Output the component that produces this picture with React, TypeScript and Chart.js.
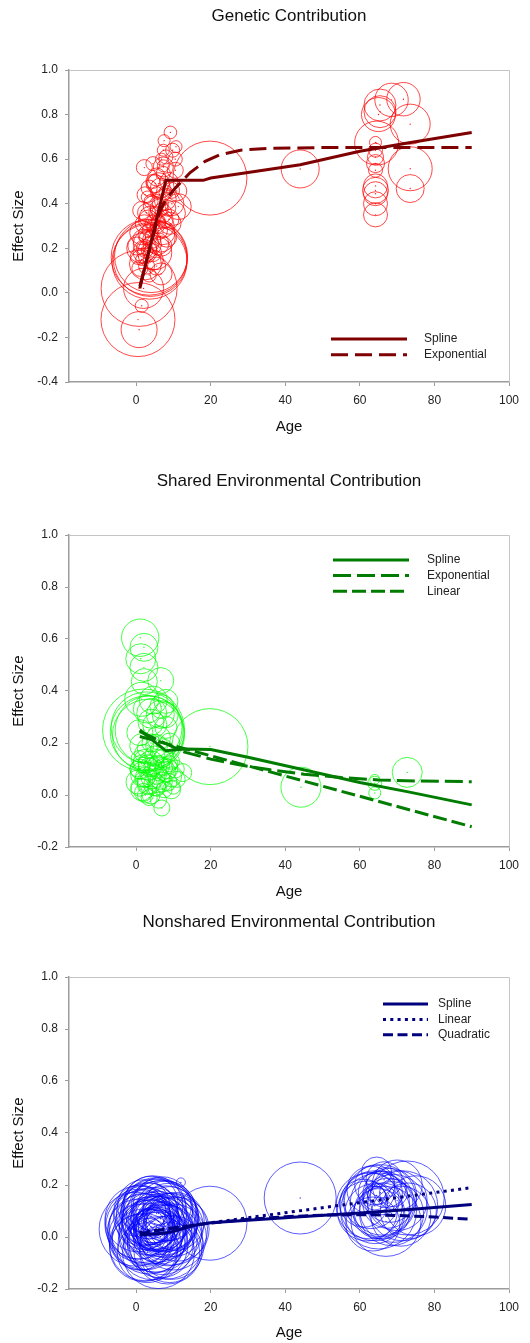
import React, { useEffect, useRef } from "react";
import { Chart, registerables } from "chart.js";

Chart.register(...registerables);

// ---------- axis ticks ----------
const ageTicks = [0, 20, 40, 60, 80, 100];
const geneticEffectTicks = [-0.4, -0.2, 0.0, 0.2, 0.4, 0.6, 0.8, 1.0];
const envEffectTicks = [-0.2, 0.0, 0.2, 0.4, 0.6, 0.8, 1.0];

// ---------- Genetic contribution: studies (age, effect, weight) ----------
const geneticAge = [
  0.5, 0.8, 0.8, 1.5, 2, 3.5, 3.8, 4.0, 3.6, 19.8, 44, 6.7,
  9.2, 7.5, 10.7, 7.3, 2.2, 10.5, 7.3, 7.3, 10.5, 5.1, 2.4, 10.9, 11.3, 9.6, 4.6, 1.5, 6.9, 3.3,
  9.1, 6.0, 1.5, 8.2, 4.2, 0.2, 2.4, 6.9, 0.6, 4.6, 1.5, 3, 2.5, 5, 6.5, 7, 10, 7.3, 6,
  3, 4, 5, 6, 4.5, 3.5, 2.5, 5.5, 6.5, 8, 8.5, 7.5, 2, 3, 1.5, 4,
  3.5, 4.5, 5.5, 6.5, 8.8, 9.5, 2.8, 3.8, 5.2, 6.2, 7.8, 8.8, 2.2, 3.2, 5.8, 7.2, 4.4, 1.8, 2.8, 5.5, 3.5, 1, 8, 9.8, 6.8, 4.5,
  71.7, 68.5, 65.4, 65.4, 65.0, 73.5, 64.5, 64.2, 64.2, 64.2, 64.2, 64.2, 73.5, 73.5, 64.2, 64.2, 64.2, 64.2, 64.2,
];
const geneticEffect = [
  -0.12, 0.02, -0.165, -0.058, 0.02, 0.16, 0.15, 0.165, 0.14, 0.515, 0.556, 0.085,
  0.72, 0.683, 0.656, 0.64, 0.562, 0.6, 0.57, 0.536, 0.55, 0.49, 0.44, 0.457, 0.387, 0.4, 0.39, 0.37, 0.357, 0.327,
  0.312, 0.28, 0.27, 0.25, 0.24, 0.21, 0.185, 0.21, 0.163, 0.148, 0.2, 0.22, 0.13, 0.18, 0.25, 0.3, 0.357, 0.565, 0.49,
  0.43, 0.41, 0.36, 0.32, 0.3, 0.28, 0.25, 0.45, 0.4, 0.45, 0.38, 0.33, 0.2, 0.19, 0.15, 0.22,
  0.47, 0.5, 0.52, 0.47, 0.5, 0.46, 0.36, 0.34, 0.31, 0.38, 0.42, 0.33, 0.31, 0.26, 0.22, 0.27, 0.18, 0.24, 0.12, 0.12, 0.08, 0.11, 0.61, 0.64, 0.6, 0.58,
  0.869, 0.866, 0.843, 0.813, 0.8, 0.757, 0.672, 0.675, 0.64, 0.61, 0.58, 0.55, 0.557, 0.468, 0.48, 0.46, 0.445, 0.4, 0.35,
];
const geneticWeight = [
  37, 38, 18, 6.5, 20, 38, 37, 36.5, 37.5, 37, 19, 11,
  6.3, 6, 6, 6, 8, 7, 6, 7, 8, 9, 8, 10, 13, 12, 10, 9, 10, 10,
  11, 9, 12, 10, 9, 9, 12, 10, 8, 10, 15, 14, 16, 17, 15, 12, 12, 10, 11,
  6, 7, 6, 7, 6, 7, 6, 6, 8, 7, 8, 9, 7, 6, 6, 8,
  8, 7, 9, 10, 9, 8, 9, 11, 10, 9, 11, 10, 9, 10, 11, 12, 9, 10, 8, 9, 7, 8, 7, 7, 6, 7,
  16.7, 16.7, 16, 16, 17, 20, 22, 6, 7, 8, 9, 7, 22, 14, 12, 13, 12, 12, 12,
];
const geneticSplineAge = [1, 8, 18, 20, 30, 44, 60, 72, 90];
const geneticSplineEffect = [0.02, 0.505, 0.505, 0.515, 0.54, 0.575, 0.635, 0.67, 0.72];
const geneticExpAge = [1, 4, 6.2, 8, 10.5, 14.5, 18.5, 22.5, 28, 35, 50, 90];
const geneticExpEffect = [0.03, 0.22, 0.36, 0.42, 0.47, 0.54, 0.59, 0.62, 0.64, 0.648, 0.652, 0.652];

// ---------- Shared environmental contribution ----------
const sharedAge = [
  1.1, 2.1, 1.25, 2.1, 2.2, 6.6, 1.5, 4.6, 6.9, 7.8, 4.2, 2, 3, 3.3, 2.8, 3.5, 1, 19.8, 44.2, 72.7, 64, 64, 64,
  0.5, 1, 1.5, 2, 2.5, 3, 3.5, 4, 4.5, 5, 5.5, 6, 6.5, 7, 7.5, 8, 8.5, 9, 9.5, 10, 11, 12.5, 2, 0.8,
  3, 4, 5.5, 6, 1.5, 3.5, 6.9, 6, 9.5, 1, 2.5, 4, 7, 8, 5, 9,
  0.5, 1.5, 2.5, 3.5, 4.5, 5.5, 6.5, 7.5, 8.5, 5, 7, 3, 2, 9.5, 10.5, 1.5, 6.5, 8, 3, 4,
];
const sharedEffect = [
  0.605, 0.568, 0.524, 0.491, 0.436, 0.44, 0.368, 0.365, 0.34, 0.308, 0.314, 0.25, 0.24, 0.23, 0.26, 0.25, 0.24, 0.186, 0.03, 0.087, 0.045, 0.008, 0.06,
  0.05, 0.1, 0.02, 0.08, 0.13, 0.04, 0.1, 0.0, 0.07, 0.15, 0.03, 0.11, 0.06, 0.14, 0.02, 0.09, 0.05, 0.12, 0.07, 0.03, 0.06, 0.086, 0.16, 0.14,
  0.18, 0.2, 0.19, 0.22, 0.06, -0.01, -0.05, -0.02, 0.02, 0.03, 0.0, 0.12, 0.17, 0.26, 0.27, 0.2,
  0.1, 0.12, 0.07, 0.05, 0.11, 0.08, 0.1, 0.11, 0.1, 0.04, 0.05, 0.12, 0.01, 0.13, 0.1, 0.19, 0.31, 0.36, 0.33, 0.28,
];
const sharedWeight = [
  18.7, 14, 15, 14, 13, 13, 17, 14, 12, 13, 15, 41, 37, 36, 35.5, 34, 13, 38, 20, 15, 7, 6, 5,
  12, 10, 11, 13, 12, 10, 11, 9, 12, 10, 9, 11, 10, 9, 8, 10, 9, 8, 10, 7, 8, 9, 9, 8,
  10, 9, 11, 12, 7, 8, 8, 8, 9, 9, 8, 13, 12, 11, 12, 10,
  8, 9, 10, 12, 9, 10, 12, 9, 10, 11, 10, 9, 9, 8, 9, 12, 14, 12, 14, 13,
];
const sharedSplineAge = [1, 8, 13, 20, 30, 44, 60, 73, 90];
const sharedSplineEffect = [0.25, 0.17, 0.177, 0.175, 0.145, 0.1, 0.048, 0.012, -0.038];
const sharedExpAge = [1, 6, 13, 20, 28, 36, 45, 55, 65, 75, 90];
const sharedExpEffect = [0.245, 0.21, 0.165, 0.138, 0.115, 0.097, 0.08, 0.067, 0.058, 0.054, 0.051];
const sharedLinearAge = [1, 90];
const sharedLinearEffect = [0.225, -0.122];

// ---------- Nonshared environmental contribution ----------
const nonsharedAge = [
  0, 1, 1.5, 2, 2.5, 3, 3.5, 4, 4.5, 5, 5.5, 6, 6.5, 7, 7.5, 8, 8.5, 9, 9.5, 10, 0.5, 2, 3, 4, 5, 6, 7, 8, 1, 2.5, 6.5,
  11, 12, 4, 5.5, 3.5, 6, 5, 4.5, 7, 9, 2.5, 8,
  0.5, 1.5, 2, 3, 3.5, 4, 4.5, 5, 5.5, 6, 6.5, 7, 7.5, 8, 8.5, 9, 9.5, 10, 10.5, 3, 5, 6, 4, 7.5, 2, 1, 6, 8.5, 4.5, 3,
  19.8, 44,
  62, 63, 64, 64, 64.5, 65, 65.5, 66, 67, 68, 69, 70, 71, 72.7, 73, 63.5, 66.5, 64, 61, 75, 65,
  62.5, 64, 65.5, 66, 67.5, 68.5, 70, 71.5, 63, 67, 69, 64.5,
];
const nonsharedEffect = [
  0.03, 0.05, 0.0, 0.08, -0.03, 0.04, 0.1, 0.02, 0.06, -0.02, 0.09, 0.03, 0.07, -0.01, 0.05, 0.1, 0.02, 0.06, -0.04, 0.04, 0.03, 0.12, -0.06, 0.13, 0.05, -0.06, 0.12, -0.02, -0.02, 0.06, 0.0,
  0.03, 0.21, 0.08, 0.04, 0.05, 0.09, 0.0, 0.03, 0.04, -0.06, 0.02, 0.07,
  0.07, 0.04, -0.04, 0.09, 0.0, 0.06, -0.03, 0.1, 0.01, 0.06, -0.03, 0.08, 0.02, 0.04, -0.05, 0.09, 0.03, 0.0, 0.06, 0.03, 0.07, 0.03, 0.04, 0.06, 0.06, 0.1, 0.12, 0.11, 0.12, -0.02,
  0.053, 0.15,
  0.1, 0.14, 0.12, 0.2, 0.25, 0.09, 0.17, 0.13, 0.06, 0.16, 0.11, 0.2, 0.08, 0.15, 0.1, 0.05, 0.22, 0.15, 0.13, 0.12, 0.1,
  0.12, 0.09, 0.14, 0.1, 0.13, 0.09, 0.14, 0.12, 0.18, 0.19, 0.17, 0.16,
];
const nonsharedWeight = [
  37, 35, 33, 30, 36, 38, 28, 32, 34, 30, 36, 33, 38, 35, 31, 30, 34, 28, 32, 30, 30, 26, 30, 27, 25, 36, 29, 37, 28, 24, 27,
  32, 4.5, 20, 18, 15, 12, 10, 22, 24, 30, 38, 33,
  33, 36, 34, 31, 37, 29, 35, 32, 38, 30, 33, 36, 28, 31, 34, 27, 36, 33, 29, 26, 24, 22, 18, 20, 28, 26, 27, 25, 30, 24,
  37, 36,
  30, 28, 35, 20, 15, 25, 22, 32, 35, 27, 34, 25, 30, 37, 28, 27, 18, 12, 24, 30, 38,
  33, 30, 36, 28, 25, 32, 30, 35, 24, 20, 14, 9,
];
const nonsharedSplineAge = [1, 8, 12, 16, 20, 30, 44, 60, 75, 90];
const nonsharedSplineEffect = [0.008, 0.015, 0.03, 0.046, 0.055, 0.064, 0.078, 0.092, 0.108, 0.125];
const nonsharedLinearAge = [1, 90];
const nonsharedLinearEffect = [0.018, 0.19];
const nonsharedQuadAge = [1, 10, 20, 30, 40, 50, 60, 70, 80, 90];
const nonsharedQuadEffect = [0.012, 0.035, 0.054, 0.068, 0.078, 0.084, 0.086, 0.083, 0.077, 0.068];

// ---------- helpers ----------
const BUBBLE_PX = 1; // weight -> bubble radius in px
const FONT = "'Liberation Sans', Arial, Helvetica, sans-serif";
const AXIS_GRAY = "#9c9c9c";
const FRAME_GRAY = "#c4c4c4";
const TEXT = "#222222";

const pts = (xs: number[], ys: number[]) => xs.map((x, i) => ({ x, y: ys[i] }));
const bubbles = (xs: number[], ys: number[], ws: number[]) =>
  xs.map((x, i) => ({ x, y: ys[i], r: ws[i] * BUBBLE_PX }));

const framePlugin = {
  id: "frame",
  afterDraw(chart: any) {
    const { ctx, chartArea: a } = chart;
    ctx.save();
    ctx.strokeStyle = FRAME_GRAY;
    ctx.lineWidth = 1;
    ctx.beginPath();
    ctx.moveTo(a.left, a.top + 0.5);
    ctx.lineTo(a.right + 0.5, a.top + 0.5);
    ctx.lineTo(a.right + 0.5, a.bottom);
    ctx.stroke();
    ctx.restore();
  },
};

const lineLegendPlugin = {
  id: "lineLegend",
  afterDraw(chart: any, _args: any, opts: any) {
    if (!opts || opts.x0 == null) return;
    const { ctx } = chart;
    const items = chart.data.datasets.filter((d: any) => d.type === "line");
    ctx.save();
    items.forEach((d: any, i: number) => {
      const y = opts.y0 + i * opts.row;
      ctx.strokeStyle = d.borderColor;
      ctx.lineWidth = d.borderWidth;
      ctx.setLineDash(d.borderDash || []);
      ctx.beginPath();
      ctx.moveTo(opts.x0, y);
      ctx.lineTo(opts.x1, y);
      ctx.stroke();
      ctx.setLineDash([]);
      ctx.fillStyle = TEXT;
      ctx.font = `12px ${FONT}`;
      ctx.textAlign = "left";
      ctx.textBaseline = "middle";
      ctx.fillText(d.label, opts.textX, y);
    });
    ctx.restore();
  },
};

type LineSpec = { label: string; xs: number[]; ys: number[]; dash: number[]; width: number };
type PanelSpec = {
  top: number;
  height: number;
  title: string;
  titlePad: { top: number; bottom: number };
  yMin: number;
  yMax: number;
  yTicks: number[];
  xAxisH: number;
  agePadBottom: number;
  bubbleColor: string;
  lineColor: string;
  ages: number[];
  effects: number[];
  weights: number[];
  lines: LineSpec[];
  legend: { x0: number; x1: number; textX: number; y0: number; row: number };
};

const panels: PanelSpec[] = [
  {
    top: 0,
    height: 450,
    title: "Genetic Contribution",
    titlePad: { top: 5.8, bottom: 43.8 },
    yMin: -0.4,
    yMax: 1.0,
    yTicks: geneticEffectTicks,
    xAxisH: 68,
    agePadBottom: 14,
    bubbleColor: "rgba(255,0,0,0.9)",
    lineColor: "#7f0000",
    ages: geneticAge,
    effects: geneticEffect,
    weights: geneticWeight,
    lines: [
      { label: "Spline", xs: geneticSplineAge, ys: geneticSplineEffect, dash: [], width: 3 },
      { label: "Exponential", xs: geneticExpAge, ys: geneticExpEffect, dash: [17, 7], width: 3 },
    ],
    legend: { x0: 331, x1: 407, textX: 424, y0: 339, row: 15.8 },
  },
  {
    top: 450,
    height: 460,
    title: "Shared Environmental Contribution",
    titlePad: { top: 20.8, bottom: 43.8 },
    yMin: -0.2,
    yMax: 1.0,
    yTicks: envEffectTicks,
    xAxisH: 63,
    agePadBottom: 9,
    bubbleColor: "rgba(0,255,0,0.9)",
    lineColor: "#007d00",
    ages: sharedAge,
    effects: sharedEffect,
    weights: sharedWeight,
    lines: [
      { label: "Spline", xs: sharedSplineAge, ys: sharedSplineEffect, dash: [], width: 3 },
      { label: "Exponential", xs: sharedExpAge, ys: sharedExpEffect, dash: [18, 6], width: 3 },
      { label: "Linear", xs: sharedLinearAge, ys: sharedLinearEffect, dash: [14, 5], width: 3 },
    ],
    legend: { x0: 333, x1: 409, textX: 427, y0: 110, row: 15.6 },
  },
  {
    top: 900,
    height: 443,
    title: "Nonshared Environmental Contribution",
    titlePad: { top: 11.8, bottom: 44.8 },
    yMin: -0.2,
    yMax: 1.0,
    yTicks: envEffectTicks,
    xAxisH: 54,
    agePadBottom: 1,
    bubbleColor: "rgba(0,0,255,0.8)",
    lineColor: "#00007f",
    ages: nonsharedAge,
    effects: nonsharedEffect,
    weights: nonsharedWeight,
    lines: [
      { label: "Spline", xs: nonsharedSplineAge, ys: nonsharedSplineEffect, dash: [], width: 3 },
      { label: "Linear", xs: nonsharedLinearAge, ys: nonsharedLinearEffect, dash: [3, 4.3], width: 3 },
      { label: "Quadratic", xs: nonsharedQuadAge, ys: nonsharedQuadEffect, dash: [10, 4.5], width: 3 },
    ],
    legend: { x0: 383, x1: 428, textX: 438, y0: 104, row: 15.4 },
  },
];

function Panel({ spec }: { spec: PanelSpec }) {
  const ref = useRef<HTMLCanvasElement | null>(null);
  useEffect(() => {
    if (!ref.current) return;
    const lineSets = spec.lines.map((l) => ({
      type: "line" as const,
      label: l.label,
      data: pts(l.xs, l.ys),
      borderColor: spec.lineColor,
      backgroundColor: spec.lineColor,
      borderWidth: l.width,
      borderDash: l.dash,
      pointRadius: 0,
      fill: false,
      tension: 0,
      order: 0,
    }));
    const chart = new Chart(ref.current, {
      type: "bubble",
      data: {
        datasets: [
          ...lineSets,
          {
            type: "scatter" as const,
            label: "centres",
            data: pts(spec.ages, spec.effects),
            pointRadius: 0.7,
            pointBorderWidth: 0,
            backgroundColor: spec.bubbleColor,
            borderColor: spec.bubbleColor,
            order: 1,
          },
          {
            type: "bubble" as const,
            label: "studies",
            data: bubbles(spec.ages, spec.effects, spec.weights),
            borderColor: spec.bubbleColor,
            backgroundColor: "rgba(0,0,0,0)",
            borderWidth: 0.8,
            order: 2,
          },
        ] as any,
      },
      options: {
        responsive: false,
        animation: false,
        events: [],
        layout: { autoPadding: false, padding: { left: 0, right: 21, top: 0, bottom: 0 } },
        plugins: {
          legend: { display: false },
          tooltip: { enabled: false },
          title: {
            display: true,
            text: spec.title,
            fullSize: false,
            color: "#111",
            font: { family: FONT, size: 17, weight: "normal" },
            padding: spec.titlePad,
          },
          lineLegend: spec.legend,
        } as any,
        scales: {
          x: {
            type: "linear",
            min: -18,
            max: 100,
            afterBuildTicks: (axis: any) => {
              axis.ticks = ageTicks.map((v) => ({ value: v }));
            },
            afterFit: (axis: any) => {
              axis.height = spec.xAxisH;
            },
            grid: { drawOnChartArea: false, drawTicks: true, tickLength: 4, color: AXIS_GRAY },
            border: { display: true, color: AXIS_GRAY, width: 1.5 },
            ticks: {
              padding: 7,
              color: TEXT,
              font: { family: FONT, size: 12 },
              maxRotation: 0,
              autoSkip: false,
              callback: (v: any) => String(v),
            },
            title: {
              display: true,
              text: "Age",
              color: "#111",
              font: { family: FONT, size: 15 },
              padding: { top: 0, bottom: spec.agePadBottom },
            },
          },
          y: {
            type: "linear",
            min: spec.yMin,
            max: spec.yMax,
            afterBuildTicks: (axis: any) => {
              axis.ticks = spec.yTicks.map((v) => ({ value: v }));
            },
            afterFit: (axis: any) => {
              axis.width = 69;
            },
            grid: { drawOnChartArea: false, drawTicks: true, tickLength: 4, color: AXIS_GRAY },
            border: { display: true, color: AXIS_GRAY, width: 1.5 },
            ticks: {
              padding: 7,
              color: TEXT,
              font: { family: FONT, size: 12 },
              autoSkip: false,
              callback: (v: any) => Number(v).toFixed(1),
            },
            title: {
              display: true,
              text: "Effect Size",
              color: "#111",
              font: { family: FONT, size: 15 },
              padding: { top: 10, bottom: 0 },
            },
          },
        },
      } as any,
      plugins: [framePlugin, lineLegendPlugin],
    });
    return () => chart.destroy();
  }, [spec]);
  return (
    <canvas
      ref={ref}
      width={530}
      height={spec.height}
      style={{ position: "absolute", left: 0, top: spec.top, width: 530, height: spec.height }}
    />
  );
}

export default function App() {
  useEffect(() => {
    document.body.style.margin = "0";
  }, []);
  return (
    <div style={{ position: "absolute", left: 0, top: 0, width: 530, height: 1343, background: "#fff" }}>
      {panels.map((p, i) => (
        <Panel key={i} spec={p} />
      ))}
    </div>
  );
}
